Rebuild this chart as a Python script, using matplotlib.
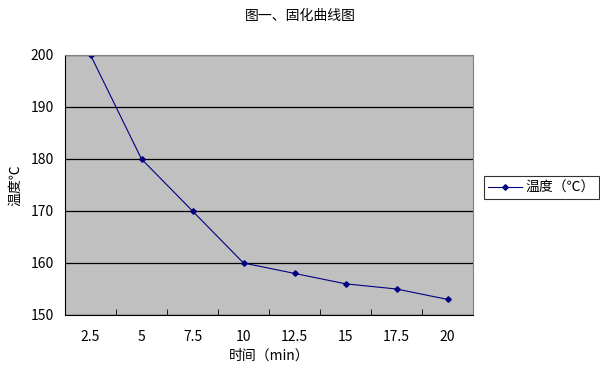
import matplotlib.pyplot as plt
import numpy as np

plt.rcParams['font.family'] = ['Noto Sans CJK SC', 'DejaVu Sans']

# data
times = ['2.5', '5', '7.5', '10', '12.5', '15', '17.5', '20']
temps = [200, 180, 170, 160, 158, 156, 155, 153]

fig = plt.figure(figsize=(6, 3.77), dpi=100)
ax = fig.add_axes([65 / 600, 1 - 315 / 377, 408 / 600, 260 / 377])
ax.set_facecolor('#c0c0c0')

x = np.arange(len(times))
ax.plot(x, temps, color='#000080', linewidth=0.8, marker='D', markersize=2.8,
        label='温度（℃）')

ax.set_xlim(-0.5, len(times) - 0.5)
ax.set_ylim(150, 200)
ax.set_yticks(range(150, 201, 10))
ax.yaxis.grid(True, color='black', linewidth=0.9)
ax.set_axisbelow(True)

# category ticks sit between the categories, labels at centers
ax.set_xticks(x)
ax.set_xticklabels(times, fontsize=10)
ax.set_xticks(np.arange(0.5, len(times) - 0.5), minor=True)
ax.tick_params(axis='x', which='major', length=0, pad=11)
ax.tick_params(axis='x', which='minor', length=4, direction='in', color='black')
ax.tick_params(axis='y', length=0, labelsize=10, pad=8)

for side in ['top', 'right']:
    ax.spines[side].set_color('#808080')
for side in ['left', 'bottom']:
    ax.spines[side].set_color('black')

ax.set_xlabel('时间（min）', fontsize=10, labelpad=3)
ax.set_ylabel('温度℃', fontsize=10, labelpad=6)
fig.suptitle('图一、固化曲线图', fontsize=10, y=0.975)

leg = ax.legend(loc='center left', bbox_to_anchor=(1.01, 0.49), fontsize=10,
                frameon=True, fancybox=False, edgecolor='black',
                handlelength=2.4, borderpad=0.3, handletextpad=0.3)
leg.get_frame().set_linewidth(0.8)

fig.savefig('out.png', dpi=100)
